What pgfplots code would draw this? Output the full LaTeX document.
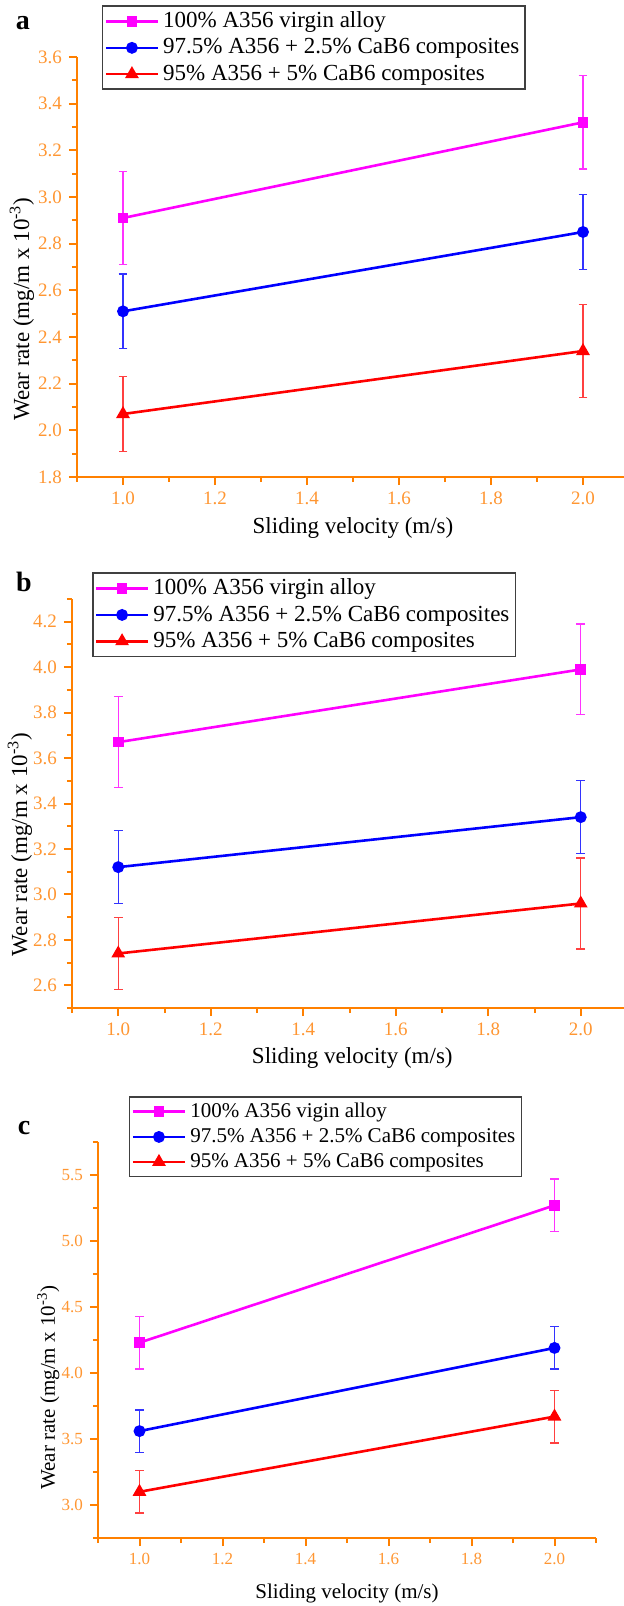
\documentclass[border=0pt]{standalone}
\usepackage{fontspec}
\setmainfont{Liberation Serif}
\usepackage{pgfplots}
\pgfplotsset{compat=1.18}
\definecolor{axorange}{RGB}{255,128,0}
\definecolor{tickorange}{RGB}{255,150,50}
\definecolor{mypink}{RGB}{255,0,255}
\definecolor{myblue}{RGB}{0,0,255}
\definecolor{myred}{RGB}{255,0,0}
\pgfplotsset{
  wearstyle/.style={
    scale only axis, anchor=south west,
    axis lines=left,
    axis line style={-, draw=axorange, line width=1.4pt},
    tick align=outside,
    major tick length=4pt, minor tick length=2.5pt,
    tick style={draw=axorange, line width=1pt},
    xmin=0.9, xmax=2.1,
    xtick={1,1.2,1.4,1.6,1.8,2},
    minor xtick={0.9,1.1,1.3,1.5,1.7,1.9,2.1},
    ticklabel style={text=tickorange, font=\fontsize{9.5}{11}\selectfont},
    /pgf/number format/fixed,
    /pgf/number format/fixed zerofill,
    /pgf/number format/precision=1,
    /pgf/number format/assume math mode=true,
    xlabel={Sliding velocity (m/s)},
    ylabel={Wear rate (mg/m x 10\textsuperscript{-3})},
    label style={font=\fontsize{11.5}{13}\selectfont},
    legend cell align=left,
    legend image code/.code={\draw[mark repeat=2,mark phase=2,##1] plot coordinates {(0pt,0pt) (13pt,0pt) (26pt,0pt)};},
    legend style={anchor=north west, draw=black!75, line width=0.8pt,
      font=\fontsize{11.5}{13.3}\selectfont, inner xsep=1pt, inner ysep=1pt},
  },
  pinkline/.style={color=mypink, line width=1.3pt, mark=square*, mark size=2pt, mark options={solid}},
  blueline/.style={color=myblue, line width=1.3pt, mark=*, mark size=2.3pt, mark options={solid}},
  redline/.style={color=myred, line width=1.3pt, mark=triangle*, mark size=2.7pt, mark options={solid}},
  ebar/.style={error bars/.cd, y dir=both, y explicit,
     error bar style={#1, line width=0.6pt},
     error mark options={rotate=90, #1, mark size=2.2pt, line width=0.6pt}},
}
\begin{document}
\begin{tikzpicture}
% ---------- panel a ----------
\begin{axis}[wearstyle,
  at={(38.5pt,-238.5pt)}, width=276pt, height=210pt,
  ymin=1.8, ymax=3.6,
  ytick={1.8,2.0,2.2,2.4,2.6,2.8,3.0,3.2,3.4,3.6},
  minor ytick={1.9,2.1,2.3,2.5,2.7,2.9,3.1,3.3,3.5},
  xlabel style={at={(axis description cs:0.5,-0.121)}, anchor=center},
  ylabel style={at={(axis description cs:-0.100,0.40)}, anchor=center},
  legend style={at={(axis description cs:0.045,1.124)}},
]
\addplot[pinkline, ebar=mypink!80] coordinates {(1,2.91) +- (0,0.2) (2,3.32) +- (0,0.2)};
\addlegendentry{100\% A356 virgin alloy}
\addplot[blueline, ebar=myblue!80] coordinates {(1,2.51) +- (0,0.16) (2,2.85) +- (0,0.16)};
\addlegendentry{97.5\% A356 + 2.5\% CaB6 composites}
\addplot[redline, ebar=myred!75] coordinates {(1,2.07) +- (0,0.16) (2,2.34) +- (0,0.2)};
\addlegendentry{95\% A356 + 5\% CaB6 composites}
\end{axis}
% ---------- panel b ----------
\begin{axis}[wearstyle,
  at={(36pt,-504pt)}, width=277.5pt, height=204.5pt,
  ymin=2.5, ymax=4.3,
  ytick={2.6,2.8,3.0,3.2,3.4,3.6,3.8,4.0,4.2},
  minor ytick={2.5,2.7,2.9,3.1,3.3,3.5,3.7,3.9,4.1,4.3},
  xlabel style={at={(axis description cs:0.505,-0.122)}, anchor=center},
  ylabel style={at={(axis description cs:-0.094,0.40)}, anchor=center},
  legend style={at={(axis description cs:0.036,1.066)}},
]
\addplot[pinkline, ebar=mypink!80] coordinates {(1,3.67) +- (0,0.2) (2,3.99) +- (0,0.2)};
\addlegendentry{100\% A356 virgin alloy}
\addplot[blueline, ebar=myblue!80] coordinates {(1,3.12) +- (0,0.16) (2,3.34) +- (0,0.16)};
\addlegendentry{97.5\% A356 + 2.5\% CaB6 composites}
\addplot[redline, ebar=myred!75] coordinates {(1,2.74) +- (0,0.16) (2,2.96) +- (0,0.2)};
\addlegendentry{95\% A356 + 5\% CaB6 composites}
\end{axis}
% ---------- panel c ----------
\begin{axis}[wearstyle,
  at={(49pt,-769pt)}, width=249pt, height=198pt,
  ymin=2.75, ymax=5.75,
  ytick={3.0,3.5,4.0,4.5,5.0,5.5},
  minor ytick={2.75,3.25,3.75,4.25,4.75,5.25,5.75},
  ticklabel style={font=\fontsize{8.5}{10}\selectfont},
  label style={font=\fontsize{10.5}{12}\selectfont},
  xlabel style={at={(axis description cs:0.5,-0.139)}, anchor=center},
  ylabel style={at={(axis description cs:-0.100,0.38)}, anchor=center},
  legend style={at={(axis description cs:0.062,1.116)}, font=\fontsize{10.5}{12.3}\selectfont},
]
\addplot[pinkline, ebar=mypink!80] coordinates {(1,4.23) +- (0,0.2) (2,5.27) +- (0,0.2)};
\addlegendentry{100\% A356 vigin alloy}
\addplot[blueline, ebar=myblue!80] coordinates {(1,3.56) +- (0,0.16) (2,4.19) +- (0,0.16)};
\addlegendentry{97.5\% A356 + 2.5\% CaB6 composites}
\addplot[redline, ebar=myred!75] coordinates {(1,3.10) +- (0,0.16) (2,3.67) +- (0,0.2)};
\addlegendentry{95\% A356 + 5\% CaB6 composites}
\end{axis}
\node[font=\bfseries\fontsize{14}{14}\selectfont] at (11.5pt,-11.5pt) {a};
\node[font=\bfseries\fontsize{14}{14}\selectfont] at (12pt,-291pt) {b};
\node[font=\bfseries\fontsize{14}{14}\selectfont] at (12pt,-564pt) {c};
\pgfresetboundingbox
\path[use as bounding box] (0,0) rectangle (312pt,-803pt);
\end{tikzpicture}
\end{document}
